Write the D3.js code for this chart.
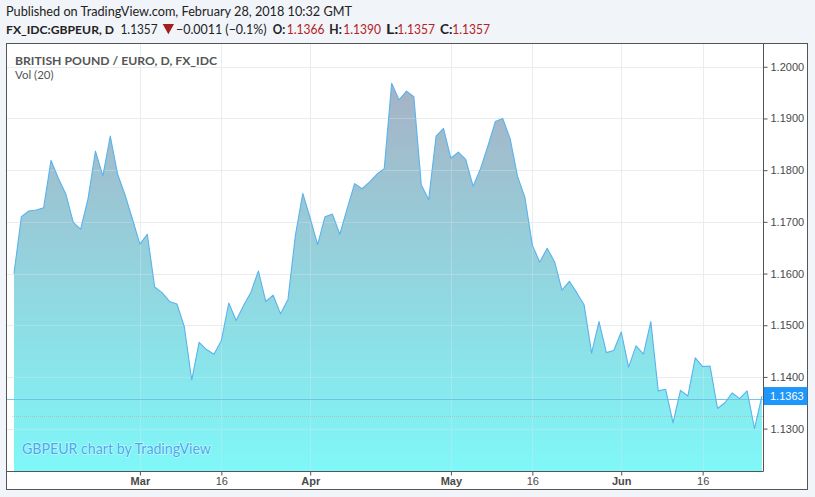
<!DOCTYPE html>
<html><head><meta charset="utf-8">
<script src="https://cdn.jsdelivr.net/npm/d3@7"></script>
<style>html,body{margin:0;padding:0;background:#f1f4f9;} svg{display:block}</style>
</head><body>
<svg id="c" width="815" height="497"></svg>
<script>
// ---- data ----
const values = [
 1.1600,1.1710,1.1721,1.1723,1.1727,1.1819,1.1784,1.1754,1.1699,1.1686,
 1.1745,1.1837,1.1789,1.1866,1.1792,1.1752,1.1705,1.1657,1.1676,1.1574,
 1.1563,1.1546,1.1541,1.1497,1.1394,1.1467,1.1453,1.1444,1.1470,1.1543,
 1.1509,1.1538,1.1564,1.1605,1.1546,1.1558,1.1522,1.1550,1.1674,1.1755,
 1.1707,1.1656,1.1710,1.1715,1.1676,1.1726,1.1774,1.1764,1.1777,1.1792,
 1.1803,1.1968,1.1936,1.1953,1.1942,1.1772,1.1743,1.1866,1.1881,1.1823,
 1.1835,1.1821,1.1769,1.1803,1.1847,1.1894,1.1900,1.1861,1.1788,1.1747,
 1.1655,1.1622,1.1649,1.1623,1.1568,1.1585,1.1563,1.1539,1.1446,1.1507,
 1.1447,1.1451,1.1487,1.1419,1.1460,1.1444,1.1507,1.1373,1.1376,1.1311,
 1.1374,1.1363,1.1437,1.1420,1.1421,1.1339,1.1350,1.1369,1.1358,1.1373,
 1.1300,1.1363
];
const timeTickIndex = [17, 28, 40, 59, 70, 82, 93];
const timeTickLabels = ["Mar", "16", "Apr", "May", "16", "Jun", "16"];
const timeTickBold = [true, false, true, true, false, true, false];
const priceTicks = [1.13, 1.14, 1.15, 1.16, 1.17, 1.18, 1.19, 1.20];
const lastValue = 1.1363;
const closeLevel = 1.1357;
const refLevel = 1.1324;
const headerLine1 = "Published on TradingView.com, February 28, 2018 10:32 GMT";
const symbolName = "FX_IDC:GBPEUR, D";
const quoteLast = "1.1357";
const quoteChange = "\u22120.0011 (\u22120.1%)";
const ohlcKeys = ["O:", "H:", "L:", "C:"];
const ohlcValues = ["1.1366", "1.1390", "1.1357", "1.1357"];

// ---- layout ----
const box = {l: 6, t: 43, r: 808, b: 490};
const pane = {l: 6, t: 43, r: 763, b: 471};

const svg = d3.select("#c");
const x = d3.scaleLinear().domain([0, values.length - 1]).range([14, 761.9]);
const y = d3.scaleLinear().domain([1.1218, 1.2046]).range([pane.b, pane.t]);

// chart box
svg.append("rect").attr("x", box.l + 0.5).attr("y", box.t + 0.5)
  .attr("width", box.r - box.l - 1).attr("height", box.b - box.t - 1)
  .attr("fill", "#fff").attr("stroke", "#555").attr("stroke-width", 1);

const defs = svg.append("defs");
defs.append("clipPath").attr("id", "pc").append("rect")
  .attr("x", pane.l + 1).attr("y", pane.t + 1).attr("width", pane.r - pane.l - 1).attr("height", pane.b - pane.t - 1);
const grad = defs.append("linearGradient").attr("id", "ag")
  .attr("gradientUnits", "userSpaceOnUse")
  .attr("x1", 0).attr("x2", 0).attr("y1", y(d3.max(values))).attr("y2", pane.b);
grad.append("stop").attr("offset", 0).attr("stop-color", "#a6b2c5");
grad.append("stop").attr("offset", 1).attr("stop-color", "#7ff7f8");

const g = svg.append("g").attr("clip-path", "url(#pc)");

// grid under area
const grid = g.append("g");
grid.selectAll("line.h").data(priceTicks).join("line")
  .attr("x1", pane.l).attr("x2", pane.r).attr("y1", d => Math.round(y(d)) + 0.5).attr("y2", d => Math.round(y(d)) + 0.5)
  .attr("stroke", "#eef1f5");
grid.selectAll("line.v").data(timeTickIndex).join("line")
  .attr("y1", pane.t).attr("y2", pane.b).attr("x1", d => Math.round(x(d)) + 0.5).attr("x2", d => Math.round(x(d)) + 0.5)
  .attr("stroke", "#eef1f5");

// area
const area = d3.area().x((d, i) => x(i)).y0(pane.b).y1(d => y(d));
const line = d3.line().x((d, i) => x(i)).y(d => y(d));
g.append("path").datum(values).attr("d", area).attr("fill", "url(#ag)");

// faint grid over area
const grid2 = g.append("g").attr("opacity", 0.35);
grid2.selectAll("line.h").data(priceTicks).join("line")
  .attr("x1", pane.l).attr("x2", pane.r).attr("y1", d => Math.round(y(d)) + 0.5).attr("y2", d => Math.round(y(d)) + 0.5)
  .attr("stroke", "#dfe6ee");
grid2.selectAll("line.v").data(timeTickIndex).join("line")
  .attr("y1", pane.t).attr("y2", pane.b).attr("x1", d => Math.round(x(d)) + 0.5).attr("x2", d => Math.round(x(d)) + 0.5)
  .attr("stroke", "#dfe6ee");

// reference lines
g.append("line").attr("x1", pane.l + 6).attr("x2", pane.r).attr("y1", Math.round(y(refLevel)) + 0.5).attr("y2", Math.round(y(refLevel)) + 0.5)
  .attr("stroke", "#c4a27c").attr("stroke-opacity", 0.55).attr("stroke-dasharray", "1,1");
g.append("line").attr("x1", pane.l).attr("x2", pane.r).attr("y1", Math.round(y(closeLevel)) + 0.5).attr("y2", Math.round(y(closeLevel)) + 0.5)
  .attr("stroke", "#69bfe6").attr("stroke-opacity", 0.9);

g.append("path").datum(values).attr("d", line).attr("fill", "none")
  .attr("stroke", "#5ab3ec").attr("stroke-width", 1.1).attr("stroke-linejoin", "round");

// pane borders
svg.append("line").attr("x1", pane.r + 0.5).attr("x2", pane.r + 0.5).attr("y1", pane.t).attr("y2", pane.b + 0.5).attr("stroke", "#555");
svg.append("line").attr("x1", pane.l).attr("x2", pane.r + 0.5).attr("y1", pane.b + 0.5).attr("y2", pane.b + 0.5).attr("stroke", "#555");

// price axis
const yAxis = d3.axisRight(y).tickValues(priceTicks).tickFormat(d3.format(".4f")).tickSize(4).tickPadding(3);
const ya = svg.append("g").attr("transform", `translate(${pane.r + 0.5},0)`).call(yAxis);
ya.select(".domain").remove();
ya.selectAll("line").attr("stroke", "#555");
ya.selectAll("text").attr("font-family", "Liberation Sans, Arial, sans-serif").attr("font-size", 11).attr("fill", "#4a4a4a");

// last value label
const ly = y(lastValue);
svg.append("rect").attr("x", pane.r + 1).attr("y", ly - 9).attr("width", box.r - pane.r - 1.5).attr("height", 18).attr("fill", "#1e96fa");
svg.append("text").attr("x", pane.r + 7).attr("y", ly).attr("dy", "0.35em").text(d3.format(".4f")(lastValue))
  .attr("font-family", "Liberation Sans, Arial, sans-serif").attr("font-size", 11).attr("fill", "#fff");

// time axis
const xAxis = d3.axisBottom(x).tickValues(timeTickIndex).tickFormat((d, i) => timeTickLabels[i]).tickSize(4).tickPadding(2);
const xa = svg.append("g").attr("transform", `translate(0,${pane.b + 0.5})`).call(xAxis);
xa.select(".domain").remove();
xa.selectAll("line").attr("stroke", "#555");
xa.selectAll("text").attr("font-family", "Liberation Sans, Arial, sans-serif").attr("font-size", 11).attr("fill", "#4a4a4a")
  .attr("font-weight", (d, i) => timeTickBold[i] ? "bold" : "normal");

// header
const hf = "Lato, 'Noto Sans', sans-serif";
function fitText(sel, w) { return sel.attr("textLength", w).attr("lengthAdjust", "spacingAndGlyphs"); }
fitText(svg.append("text").attr("x", 6).attr("y", 16).attr("font-family", hf).attr("font-size", 13.5).attr("fill", "#222")
  .text(headerLine1), 346);
const h2 = svg.append("g").attr("font-family", hf).attr("font-size", 12.5).attr("fill", "#222");
fitText(h2.append("text").attr("x", 6).attr("y", 34).attr("font-weight", "bold").attr("font-size", 12.2).text(symbolName), 108);
fitText(h2.append("text").attr("x", 120.5).attr("y", 34).text(quoteLast), 37);
h2.append("path").attr("d", "M162.7,24L174,24L168.35,34.3Z").attr("fill", "#a51d1d");
fitText(h2.append("text").attr("x", 176).attr("y", 34).text(quoteChange), 90.5);
const keyX = [272.7, 329.3, 386, 440];
const valX = [286.7, 343.3, 397.3, 452.3];
ohlcKeys.forEach((k, i) => {
  fitText(h2.append("text").attr("x", keyX[i]).attr("y", 34).attr("font-weight", "bold").text(k), 12.5);
  fitText(h2.append("text").attr("x", valX[i]).attr("y", 34).attr("fill", "#b22222").text(ohlcValues[i]), 37.7);
});

// legend
fitText(svg.append("text").attr("x", 15).attr("y", 64.5).attr("font-family", hf).attr("font-size", 12).attr("font-weight", "bold")
  .attr("fill", "#555").text("BRITISH POUND / EURO, D, FX_IDC"), 202);
svg.append("text").attr("x", 15).attr("y", 78.5).attr("font-family", hf).attr("font-size", 11.5).attr("fill", "#555").text("Vol (20)");

// watermark
fitText(svg.append("text").attr("x", 22).attr("y", 454).attr("font-family", hf).attr("font-size", 15)
  .attr("fill", "#4aa9ee").attr("stroke", "#ffffff").attr("stroke-opacity", 0.5).attr("stroke-width", 1.5)
  .attr("paint-order", "stroke").text("GBPEUR chart by TradingView"), 189);
</script>
</body></html>
